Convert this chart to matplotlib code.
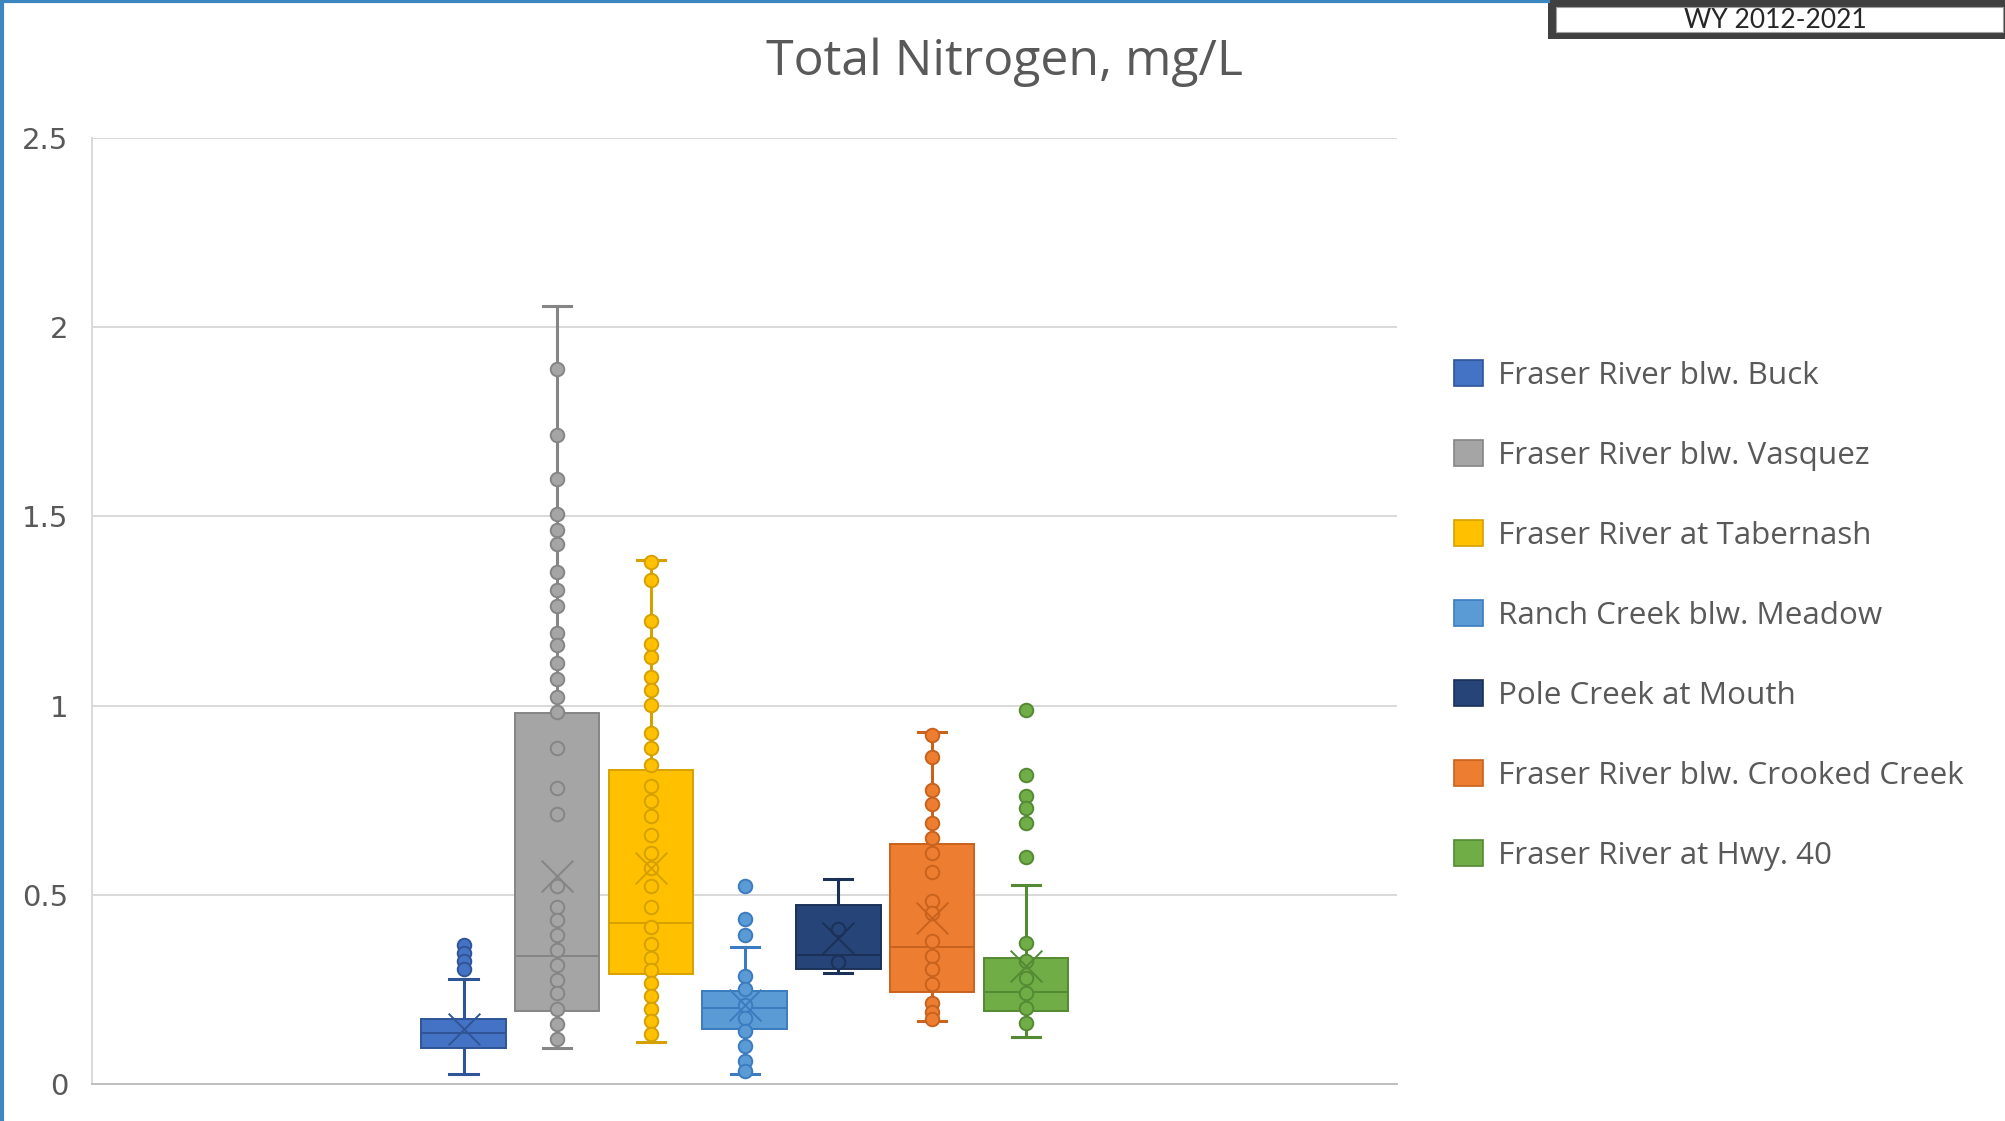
import matplotlib.pyplot as plt
from matplotlib.patches import Patch, Rectangle
from matplotlib.lines import Line2D

# sites and colours
sites = ["Fraser River blw. Buck", "Fraser River blw. Vasquez", "Fraser River at Tabernash",
         "Ranch Creek blw. Meadow", "Pole Creek at Mouth", "Fraser River blw. Crooked Creek",
         "Fraser River at Hwy. 40"]
fills = ["#4472C4", "#A5A5A5", "#FFC000", "#5B9BD5", "#264478", "#ED7D31", "#70AD47"]
edges = ["#2F5597", "#858585", "#D6A100", "#3A7CBF", "#1B3158", "#C9621C", "#548A33"]

# box statistics (mg/L)
q1 = [0.096, 0.193, 0.290, 0.145, 0.303, 0.243, 0.193]
med = [0.136, 0.338, 0.425, 0.202, 0.340, 0.362, 0.243]
q3 = [0.173, 0.981, 0.829, 0.246, 0.474, 0.634, 0.333]
whis_lo = [0.027, 0.096, 0.112, 0.026, 0.292, 0.167, 0.125]
whis_hi = [0.278, 2.055, 1.385, 0.361, 0.541, 0.930, 0.526]
means = [0.145, 0.550, 0.570, 0.210, 0.386, 0.439, 0.311]

# individual points shown on the chart
pts_buck = [0.368, 0.345, 0.325, 0.305]
pts_vasquez = [1.890, 1.716, 1.598, 1.507, 1.464, 1.426, 1.352, 1.305, 1.264, 1.193, 1.160,
               1.112, 1.071, 1.022, 0.984, 0.887, 0.782, 0.714, 0.523, 0.469, 0.433, 0.395,
               0.354, 0.314, 0.276, 0.240, 0.199, 0.159, 0.119]
pts_tabernash = [1.380, 1.332, 1.224, 1.163, 1.129, 1.075, 1.042, 1.001, 0.927, 0.887, 0.842,
                 0.788, 0.748, 0.708, 0.658, 0.611, 0.570, 0.523, 0.469, 0.415, 0.371, 0.334,
                 0.301, 0.267, 0.233, 0.199, 0.166, 0.132]
pts_ranch = [0.524, 0.436, 0.395, 0.285, 0.250, 0.210, 0.175, 0.140, 0.101, 0.061, 0.035]
pts_pole = [0.410, 0.323]
pts_crooked = [0.923, 0.864, 0.776, 0.739, 0.690, 0.651, 0.610, 0.561, 0.484, 0.452, 0.377,
               0.338, 0.303, 0.263, 0.215, 0.189, 0.171]
pts_hwy40 = [0.989, 0.816, 0.761, 0.728, 0.690, 0.601, 0.373, 0.325, 0.281, 0.241, 0.202, 0.162]
points = [pts_buck, pts_vasquez, pts_tabernash, pts_ranch, pts_pole, pts_crooked, pts_hwy40]

yticks = [0, 0.5, 1, 1.5, 2, 2.5]
ytick_labels = ["0", "0.5", "1", "1.5", "2", "2.5"]

grey_txt = "#595959"

fig = plt.figure(figsize=(20.05, 11.21), dpi=100)
fig.patch.set_facecolor("white")
ax = fig.add_axes([0.0459, 0.033, 0.651, 0.844])

positions = list(range(1, len(sites) + 1))
stats = []
for i in range(len(sites)):
    stats.append(dict(q1=q1[i], med=med[i], q3=q3[i], whislo=whis_lo[i], whishi=whis_hi[i],
                      mean=means[i], fliers=[]))

bp = ax.bxp(stats, positions=positions, widths=0.9, patch_artist=True, showfliers=False,
            capwidths=0.3, manage_ticks=False)
for i in range(len(sites)):
    bp["boxes"][i].set(facecolor=fills[i], edgecolor=edges[i], linewidth=1.4, zorder=2)
    bp["medians"][i].set(color=edges[i], linewidth=1.4, zorder=3)
    for ln in bp["whiskers"][2 * i:2 * i + 2] + bp["caps"][2 * i:2 * i + 2]:
        ln.set(color=edges[i], linewidth=2.2, zorder=1.5)

  # inner points and outliers
for i, pts in enumerate(points):
    ax.scatter([positions[i]] * len(pts), pts, s=95, facecolor=fills[i], edgecolor=edges[i],
               linewidth=1.4, zorder=4)
    # mean marker
    ax.scatter([positions[i]], [means[i]], marker="x", s=520, color=edges[i],
               linewidth=1.4, zorder=5)

ax.set_xlim(4 - 6.965, 4 + 6.965)
ax.set_ylim(0, 2.5)
ax.set_xticks([])
ax.set_yticks(yticks)
ax.set_yticklabels(ytick_labels, fontsize=21, color=grey_txt)
ax.tick_params(axis="y", length=0, pad=17)
ax.grid(axis="y", color="#D9D9D9", linewidth=1.4, zorder=0)
ax.set_axisbelow(True)
for s in ["top", "right"]:
    ax.spines[s].set_visible(False)
ax.spines["left"].set_color("#D9D9D9")
ax.spines["bottom"].set_color("#BFBFBF")
ax.spines["left"].set_linewidth(1.4)
ax.spines["bottom"].set_linewidth(1.4)

fig.text(1005 / 2005, 1 - 62 / 1121, "Total Nitrogen, mg/L", ha="center", va="center",
         fontsize=36, color=grey_txt, family="Open Sans")

handles = [Patch(facecolor=fills[i], edgecolor=edges[i], linewidth=1.2) for i in range(len(sites))]
fig.legend(handles, sites, loc="upper left", bbox_to_anchor=(1438 / 2005, 1 - 344 / 1121),
           frameon=False, borderpad=0, handlelength=0.92, handleheight=0.92, handletextpad=0.5,
           labelspacing=1.56, prop={"family": "Open Sans", "size": 22.6}, labelcolor=grey_txt)

  # blue slide frame on the left and top
fig.add_artist(Line2D([0.0012, 0.0012], [0, 1], transform=fig.transFigure, color="#3C87BF", lw=3))
fig.add_artist(Line2D([0, 1548 / 2005], [0.9988, 0.9988], transform=fig.transFigure,
                      color="#3C87BF", lw=3))

  # "WY" label box in top right corner
fig.add_artist(Rectangle((1548 / 2005, 1 - 39 / 1121), 457 / 2005, 39 / 1121,
                         transform=fig.transFigure, facecolor="#404040", edgecolor="none"))
fig.add_artist(Rectangle((1556 / 2005, 1 - 32 / 1121), 447 / 2005, 25 / 1121,
                         transform=fig.transFigure, facecolor="white", edgecolor="#A0A0A0", lw=0.8))
fig.text(1775 / 2005, 1 - 20 / 1121, "WY 2012-2021", ha="center", va="center",
         fontsize=19, color="#262626", family="Lato")

fig.savefig("out.png", dpi=100, facecolor="white")
